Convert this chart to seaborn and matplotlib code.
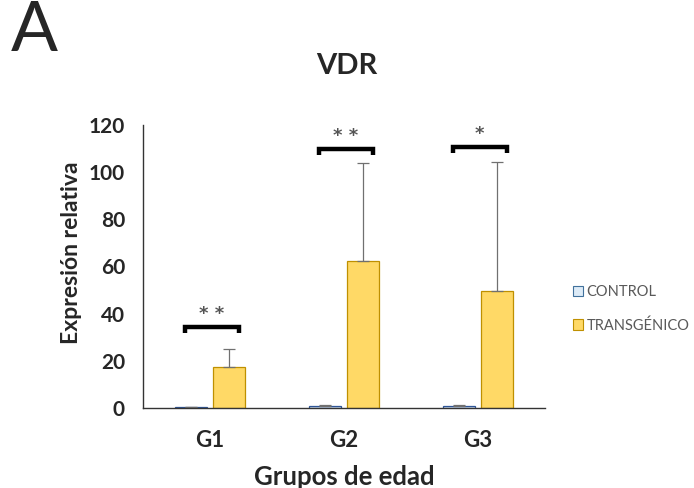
import matplotlib
matplotlib.use("Agg")
import matplotlib.pyplot as plt
import matplotlib.patches as mpatches
import seaborn as sns
import pandas as pd
import numpy as np

groups = ["G1", "G2", "G3"]
series = ["CONTROL", "TRANSGÉNICO"]
control_vals = [0.3, 0.8, 0.8]
control_err = [0.2, 0.4, 0.4]
transg_vals = [17.5, 62.5, 49.6]
transg_err = [7.5, 41.5, 54.5]
stars = ["**", "**", "*"]
bracket_y = [34.3, 109.7, 110.6]
yticks = [0, 20, 40, 60, 80, 100, 120]

df = pd.DataFrame({
    "grupo": groups * 2,
    "serie": [series[0]] * 3 + [series[1]] * 3,
    "valor": control_vals + transg_vals,
})

sns.set_theme(style="white")
plt.rcParams["font.family"] = ["Lato", "DejaVu Sans"]

fig = plt.figure(figsize=(6.94, 4.88), dpi=100)
ax = fig.add_axes([0.206, 0.164, 0.579, 0.580])

ctrl_face, ctrl_edge = "#DDEBF7", "#2F5597"
tg_face, tg_edge = "#FFD966", "#BF9000"

sns.barplot(data=df, x="grupo", y="valor", hue="serie", order=groups,
            hue_order=series, palette=[ctrl_face, tg_face], width=0.56, gap=0.15,
            errorbar=None, ax=ax, legend=False, linewidth=0.9, saturation=1)

bars = ax.patches
for i, p in enumerate(bars):
    p.set_edgecolor(ctrl_edge if i < 3 else tg_edge)

errs = control_err + transg_err
vals = control_vals + transg_vals
for p, v, e in zip(bars, vals, errs):
    xc = p.get_x() + p.get_width() / 2
    ax.errorbar(xc, v, yerr=[[0], [e]], color="#707070", elinewidth=0.9,
                capsize=4, capthick=0.9, zorder=1)

# significance brackets
for i in range(3):
    x0 = bars[i].get_x() + 0.07
    x1 = bars[i + 3].get_x() + bars[i + 3].get_width() - 0.04
    y = bracket_y[i]
    ax.plot([x0, x0, x1, x1], [y - 2.5, y, y, y - 2.5], color="black", lw=3.2,
            solid_joinstyle="miter", solid_capstyle="butt", clip_on=False)
    ax.text((x0 + x1) / 2, y + 5.5, " ".join(stars[i]), ha="center", va="center",
            fontsize=13, color="#555555", family="DejaVu Sans", fontweight="bold")

ax.set_xlim(-0.5, 2.5)
ax.set_ylim(0, 120)
ax.set_yticks(yticks)
ax.set_yticklabels([str(t) for t in yticks], fontsize=15, fontweight="bold")
ax.set_xticks(range(3))
ax.set_xticklabels(groups, fontsize=16, fontweight="bold")
ax.tick_params(axis="x", length=0, pad=16)
ax.tick_params(axis="y", length=0, pad=13)
for s in ["top", "right"]:
    ax.spines[s].set_visible(False)
for s in ["left", "bottom"]:
    ax.spines[s].set_color("#333333")
    ax.spines[s].set_linewidth(1.0)

ax.set_xlabel("Grupos de edad", fontsize=18.5, fontweight="bold", labelpad=10)
ax.set_ylabel("Expresión relativa", fontsize=16.5, fontweight="bold")
ax.yaxis.set_label_coords(-0.152, 0.55)

fig.text(0.499, 0.865, "VDR", ha="center", va="center", fontsize=21, fontweight="bold")
fig.text(0.015, 0.935, "A", ha="left", va="center", fontsize=50)

handles = [mpatches.Patch(facecolor=ctrl_face, edgecolor="#41719C", linewidth=0.8),
           mpatches.Patch(facecolor=tg_face, edgecolor=tg_edge, linewidth=0.8)]
leg = fig.legend(handles, series, loc="center left", bbox_to_anchor=(0.807, 0.367),
                 frameon=False, fontsize=10.5, handlelength=0.7, handleheight=0.7,
                 handletextpad=0.2, labelspacing=1.3, labelcolor="#595959")

fig.savefig("out.png", dpi=100, facecolor="white")
